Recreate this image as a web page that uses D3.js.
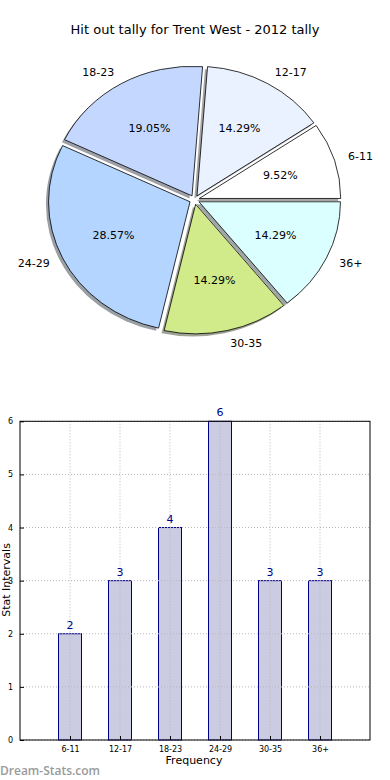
<!DOCTYPE html>
<html>
<head>
<meta charset="utf-8">
<script src="https://cdn.jsdelivr.net/npm/d3@7"></script>
<style>
  body { margin: 0; background: #fff; }
  svg { display: block; font-family: "DejaVu Sans", sans-serif; }
</style>
</head>
<body>
<svg id="chart" width="390" height="780"></svg>
<script>
// data
var categories = ["6-11", "12-17", "18-23", "24-29", "30-35", "36+"];
var counts = [2, 3, 4, 6, 3, 3];
var sliceColors = ["#ffffff", "#ebf2ff", "#c4d8ff", "#b3d5ff", "#d1eb8b", "#dbffff"];
var yTicks = [0, 1, 2, 3, 4, 5, 6];

var svg = d3.select("#chart");
var total = d3.sum(counts);
var fmtPct = d3.format(".2%");

// title
svg.append("text")
    .attr("x", 195).attr("y", 34)
    .attr("text-anchor", "middle")
    .attr("font-size", 13)
    .text("Hit out tally for Trent West - 2012 tally");

// ---- pie (elliptical, like the matplotlib original) ----
var cx = 194.5, cy = 199.8, rx = 141.5, ry = 129.6;
var sx = rx / ry;
var explode = 0.035;

// matplotlib starts at 3 o'clock and goes counter-clockwise
var pie = d3.pie().sort(null).value(function(d) { return d; })
    .startAngle(Math.PI / 2)
    .endAngle(Math.PI / 2 - 2 * Math.PI);
var arcs = pie(counts);
var arc = d3.arc().innerRadius(0).outerRadius(ry);

var pg = svg.append("g")
    .attr("transform", "translate(" + cx + "," + cy + ") scale(" + sx + ",1)");

function mid(d) { return (d.startAngle + d.endAngle) / 2; }
function offset(d, k) {
    var m = mid(d);
    return [k * ry * Math.sin(m), -k * ry * Math.cos(m)];
}

// shadows first
pg.selectAll("path.shadow")
    .data(arcs)
    .enter().append("path")
    .attr("class", "shadow")
    .attr("transform", function(d) {
        var o = offset(d, explode);
        return "translate(" + (o[0] - 2.6 / sx) + "," + (o[1] + 2.6) + ")";
    })
    .attr("d", arc)
    .attr("fill", function(d, i) {
        var c = d3.rgb(sliceColors[i]);
        return d3.rgb(c.r * 0.3, c.g * 0.3, c.b * 0.3);
    })
    .attr("fill-opacity", 0.5)
    .attr("stroke", "none");

pg.selectAll("path.slice")
    .data(arcs)
    .enter().append("path")
    .attr("class", "slice")
    .attr("transform", function(d) {
        var o = offset(d, explode);
        return "translate(" + o[0] + "," + o[1] + ")";
    })
    .attr("d", arc)
    .attr("fill", function(d, i) { return sliceColors[i]; })
    .attr("stroke", "#000")
    .attr("stroke-width", 0.8)
    .attr("vector-effect", "non-scaling-stroke");

// percent labels
svg.selectAll("text.pct")
    .data(arcs)
    .enter().append("text")
    .attr("class", "pct")
    .attr("x", function(d) { return cx + sx * offset(d, explode + 0.6)[0]; })
    .attr("y", function(d) { return cy + offset(d, explode + 0.6)[1]; })
    .attr("dy", "0.35em")
    .attr("text-anchor", "middle")
    .attr("font-size", 11)
    .text(function(d) { return fmtPct(d.value / total); });

// category labels
svg.selectAll("text.cat")
    .data(arcs)
    .enter().append("text")
    .attr("class", "cat")
    .attr("x", function(d) { return cx + sx * offset(d, explode + 1.1)[0]; })
    .attr("y", function(d) { return cy + offset(d, explode + 1.1)[1]; })
    .attr("dy", "0.35em")
    .attr("text-anchor", function(d) { return Math.sin(mid(d)) > 0 ? "start" : "end"; })
    .attr("font-size", 11)
    .text(function(d, i) { return categories[i]; });

// ---- bar chart ----
var bx0 = 20, bx1 = 370, by0 = 421.3, by1 = 740;
var x = d3.scaleLinear().domain([-1, 6]).range([bx0, bx1]);
var y = d3.scaleLinear().domain([0, 6]).range([by1, by0]);
var barW = 0.46;

var bg = svg.append("g");

bg.selectAll("rect.bar")
    .data(counts)
    .enter().append("rect")
    .attr("class", "bar")
    .attr("x", function(d, i) { return x(i - barW / 2); })
    .attr("width", x(barW) - x(0))
    .attr("y", function(d) { return y(d); })
    .attr("height", function(d) { return y(0) - y(d); })
    .attr("fill", "#cbcbe2")
    .attr("stroke", "#00008b")
    .attr("stroke-width", 1);

// grid (drawn over bars, dotted)
bg.selectAll("line.hgrid")
    .data(yTicks)
    .enter().append("line")
    .attr("x1", bx0).attr("x2", bx1)
    .attr("y1", function(d) { return y(d); })
    .attr("y2", function(d) { return y(d); })
    .attr("stroke", "#b8b8b8")
    .attr("stroke-width", 1)
    .attr("stroke-dasharray", "1,2");
bg.selectAll("line.vgrid")
    .data(categories)
    .enter().append("line")
    .attr("x1", function(d, i) { return x(i); })
    .attr("x2", function(d, i) { return x(i); })
    .attr("y1", by0).attr("y2", by1)
    .attr("stroke", "#b8b8b8")
    .attr("stroke-width", 1)
    .attr("stroke-dasharray", "1,2");

// frame
bg.append("rect")
    .attr("x", bx0).attr("y", by0)
    .attr("width", bx1 - bx0).attr("height", by1 - by0)
    .attr("fill", "none")
    .attr("stroke", "#000")
    .attr("stroke-width", 1);

// axes (inside ticks, like matplotlib)
var yAxis = d3.axisLeft(y).tickValues(yTicks).tickSize(-4).tickPadding(7)
    .tickFormat(d3.format("d"));
var yg = bg.append("g").attr("transform", "translate(" + bx0 + ",0)").call(yAxis);
var xAxis = d3.axisBottom(x).tickValues(d3.range(categories.length)).tickSize(-4).tickPadding(6)
    .tickFormat(function(d) { return categories[d]; });
var xg = bg.append("g").attr("transform", "translate(0," + by1 + ")").call(xAxis);
[yg, xg].forEach(function(a) {
    a.select(".domain").remove();
    a.selectAll(".tick line").attr("stroke", "#000");
    a.selectAll(".tick text").attr("font-size", 8).attr("font-family", "DejaVu Sans").attr("fill", "#000");
});

// value labels
bg.selectAll("text.val")
    .data(counts)
    .enter().append("text")
    .attr("class", "val")
    .attr("x", function(d, i) { return x(i); })
    .attr("y", function(d) { return y(d) - 5; })
    .attr("text-anchor", "middle")
    .attr("font-size", 11)
    .attr("fill", "#00008b")
    .text(function(d) { return d; });

// axis titles
svg.append("text")
    .attr("x", 194).attr("y", 764)
    .attr("text-anchor", "middle")
    .attr("font-size", 11)
    .text("Frequency");
svg.append("text")
    .attr("transform", "translate(10," + 580 + ") rotate(-90)")
    .attr("text-anchor", "middle")
    .attr("font-size", 11)
    .text("Stat Intervals");

// watermark
svg.append("text")
    .attr("x", 0).attr("y", 775)
    .attr("font-family", "Open Sans")
    .attr("font-weight", 600)
    .attr("font-size", 12)
    .attr("fill", "#9a9a9a")
    .text("Dream-Stats.com");
</script>
</body>
</html>
